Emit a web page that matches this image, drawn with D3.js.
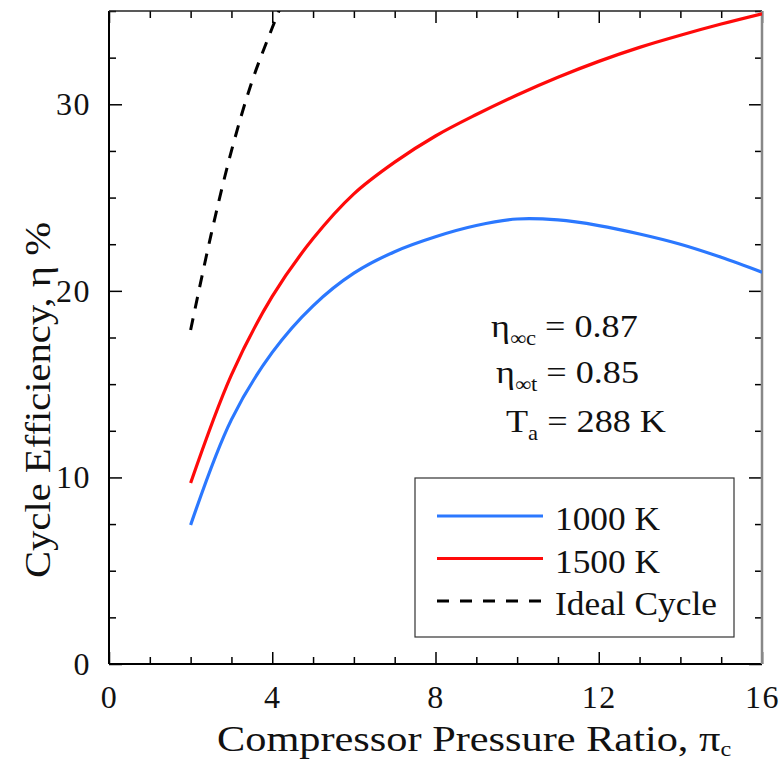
<!DOCTYPE html>
<meta charset="utf-8">
<style>
  body { margin: 0; background: #fff; }
  svg { font-family: 'Liberation Serif', 'Times New Roman', serif; }
  .axis .domain { display: none; }
  .axis .tick line { stroke: #000; stroke-width: 1.5px; }
  .axis text { font-size: 32px; fill: #111; font-family: 'Liberation Serif', serif; letter-spacing: 1.5px; }
</style>
<script src="https://d3js.org/d3.v7.min.js"></script>
<div id="chart"></div>
<script>
// data (evenly spaced pressure ratios)
const ratios = [2, 3, 4, 5, 6, 7, 8, 9, 10, 11, 12, 13, 14, 15, 16];
const eff1000 = [7.45, 13.1, 16.7, 19.2, 20.95, 22.1, 22.9, 23.5, 23.85, 23.8, 23.5, 23.05, 22.5, 21.8, 21.0];
const eff1500 = [9.7, 15.5, 19.7, 22.8, 25.2, 26.9, 28.3, 29.45, 30.5, 31.45, 32.3, 33.05, 33.7, 34.3, 34.85];
const idealRatios = [2, 2.5, 3, 3.5, 4, 4.5];
const idealEff = [17.9, 23.0, 27.5, 31.2, 34.1, 36.8];
const xMajor = [0, 4, 8, 12, 16];
const yMajor = [0, 10, 20, 30];
const seriesNames = ["1000 K", "1500 K", "Ideal Cycle"];

const margin = {top: 11, right: 18, bottom: 100, left: 109},
      width = 780 - margin.left - margin.right,
      height = 764 - margin.top - margin.bottom;

const svg = d3.select("#chart").append("svg")
    .attr("width", 780).attr("height", 764)
  .append("g")
    .attr("transform", `translate(${margin.left},${margin.top})`);

const x = d3.scaleLinear().domain([0, 16]).range([0, width]);
const y = d3.scaleLinear().domain([0, 35]).range([height, 0]);

const xMinor = d3.range(0, 17, 1).filter(v => v % 4 !== 0);
const yMinor = d3.range(0, 35.1, 2.5).filter(v => v % 10 !== 0);

// bottom axis (ticks inward)
svg.append("g").attr("class", "axis x").attr("transform", `translate(0,${height})`)
  .call(d3.axisBottom(x).tickValues(xMinor).tickSize(-7).tickFormat(""));
const xb = svg.append("g").attr("class", "axis x").attr("transform", `translate(0,${height})`)
  .call(d3.axisBottom(x).tickValues(xMajor).tickSize(-12).tickFormat(d3.format("d")));
xb.selectAll("text").attr("y", 44).attr("dy", 0);

// top axis
svg.append("g").attr("class", "axis")
  .call(d3.axisTop(x).tickValues(xMinor).tickSize(-7).tickFormat(""));
svg.append("g").attr("class", "axis")
  .call(d3.axisTop(x).tickValues(xMajor).tickSize(-12).tickFormat(""));

// left axis
svg.append("g").attr("class", "axis y")
  .call(d3.axisLeft(y).tickValues(yMinor).tickSize(-7).tickFormat(""));
const yl = svg.append("g").attr("class", "axis y")
  .call(d3.axisLeft(y).tickValues(yMajor).tickSize(-13).tickFormat(d3.format("d")));
yl.selectAll("text").attr("x", -18).attr("dy", "0.33em");

// right axis
svg.append("g").attr("class", "axis").attr("transform", `translate(${width},0)`)
  .call(d3.axisRight(y).tickValues(yMinor).tickSize(-7).tickFormat(""));
svg.append("g").attr("class", "axis").attr("transform", `translate(${width},0)`)
  .call(d3.axisRight(y).tickValues(yMajor).tickSize(-13).tickFormat(""));

// frame
svg.append("line").attr("x1", 0).attr("x2", width).attr("y1", height).attr("y2", height)
  .attr("stroke", "#000").attr("stroke-width", 2);
svg.append("line").attr("x1", 0).attr("x2", 0).attr("y1", 0).attr("y2", height)
  .attr("stroke", "#000").attr("stroke-width", 2);
svg.append("line").attr("x1", 0).attr("x2", width).attr("y1", 0).attr("y2", 0)
  .attr("stroke", "#222").attr("stroke-width", 1.5);
svg.append("line").attr("x1", width).attr("x2", width).attr("y1", 0).attr("y2", height)
  .attr("stroke", "#888").attr("stroke-width", 2.5);

svg.append("clipPath").attr("id", "clip")
  .append("rect").attr("width", width).attr("height", height);

const line = d3.line()
  .curve(d3.curveCatmullRom.alpha(0.5))
  .x(d => x(d[0]))
  .y(d => y(d[1]));

const plot = svg.append("g").attr("clip-path", "url(#clip)");

plot.append("path")
  .datum(ratios.map((r, i) => [r, eff1000[i]]))
  .attr("fill", "none").attr("stroke", "#2b78ff").attr("stroke-width", 3.2)
  .attr("d", line);

plot.append("path")
  .datum(ratios.map((r, i) => [r, eff1500[i]]))
  .attr("fill", "none").attr("stroke", "#ff0a0a").attr("stroke-width", 3.2)
  .attr("d", line);

plot.append("path")
  .datum(idealRatios.map((r, i) => [r, idealEff[i]]))
  .attr("fill", "none").attr("stroke", "#000").attr("stroke-width", 3)
  .attr("stroke-dasharray", "12,10")
  .attr("d", line);

// the original lettering is a bit wider than Liberation Serif, so stretch it
function wideText(px, py, sx, size) {
  return svg.append("text")
    .attr("transform", `translate(${px - margin.left},${py - margin.top}) scale(${sx},1)`)
    .style("font-size", size + "px").attr("fill", "#111");
}

function ann(px, py, main, sub, rest) {
  const t = wideText(px, py, 1.13, 32);
  t.append("tspan").text(main);
  t.append("tspan").attr("dy", 8).style("font-size", "20px").text(sub);
  t.append("tspan").attr("dy", -8).text(rest);
}
ann(491, 337, "η", "∞c", " = 0.87");
ann(496, 383, "η", "∞t", " = 0.85");
ann(506, 432, "T", "a", " = 288 K");

// legend
const lg = svg.append("g").attr("transform", `translate(${415 - margin.left},${478 - margin.top})`);
lg.append("rect").attr("width", 319).attr("height", 159)
  .attr("fill", "#fff").attr("stroke", "#333").attr("stroke-width", 1.2);
const legendStyles = [
  {color: "#2b78ff", dash: null, w: 3.2},
  {color: "#ff0a0a", dash: null, w: 3.2},
  {color: "#000", dash: "12,11", w: 3}
];
seriesNames.forEach((name, i) => {
  const ly = 38 + i * 42.5;
  lg.append("line").attr("x1", 22).attr("x2", 128).attr("y1", ly).attr("y2", ly)
    .attr("stroke", legendStyles[i].color).attr("stroke-width", legendStyles[i].w)
    .attr("stroke-dasharray", legendStyles[i].dash);
  lg.append("text").attr("transform", `translate(140,${ly + 14}) scale(1.04,1)`)
    .style("font-size", "34px").attr("fill", "#111").text(name);
});

// axis titles
const xt = wideText(217, 751, 1.21, 35);
xt.append("tspan").text("Compressor Pressure Ratio, π");
xt.append("tspan").attr("dy", 5).style("font-size", "20px").text("c");

svg.append("text")
  .attr("transform", `translate(${50 - margin.left},${400 - margin.top}) rotate(-90) scale(1.16,1)`)
  .attr("text-anchor", "middle").style("font-size", "35px").attr("fill", "#111")
  .text("Cycle Efficiency, η %");
</script>
